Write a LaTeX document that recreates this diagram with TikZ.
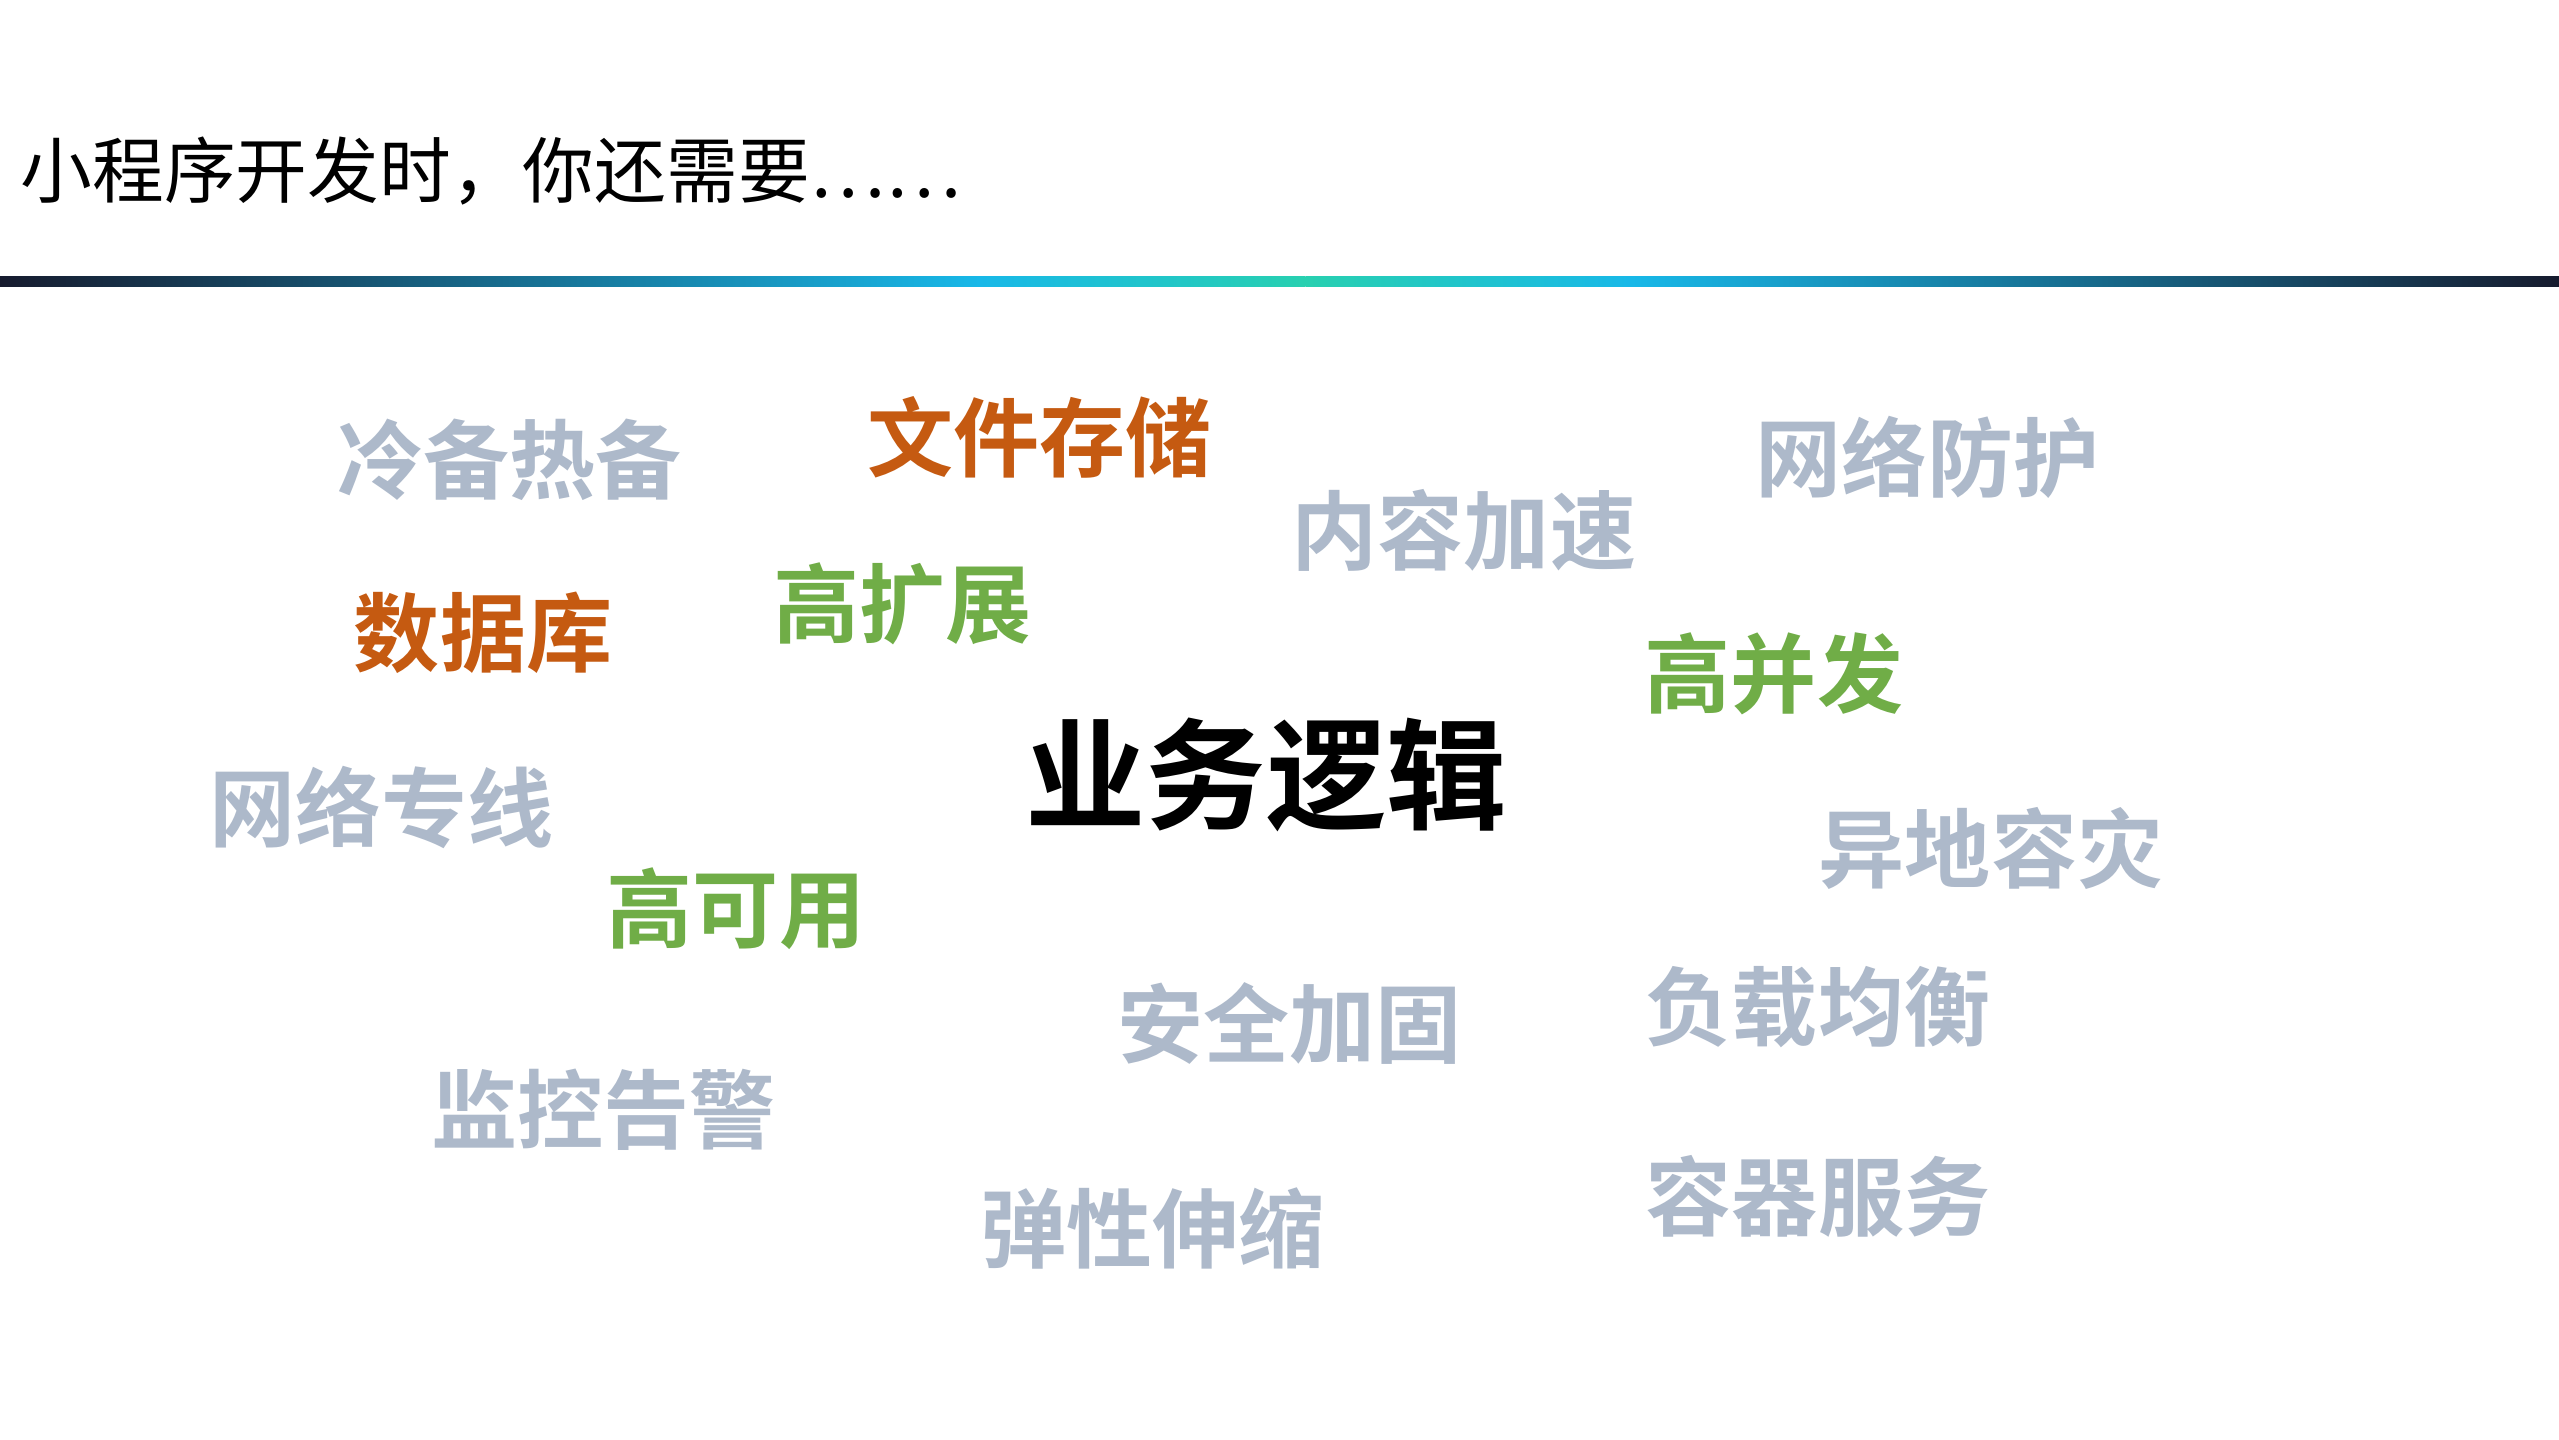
\documentclass[tikz,border=0pt]{standalone}
\usepackage{fontspec}
\setmainfont{Noto Sans CJK SC}
\newfontfamily\cjkb{Noto Sans CJK SC Bold}
\definecolor{gr}{HTML}{ADB9CA}
\definecolor{og}{HTML}{C55A11}
\definecolor{gn}{HTML}{70AD47}
\definecolor{nv}{HTML}{161B2E}
\definecolor{cy}{HTML}{18B8E8}
\definecolor{tl}{HTML}{28D0B0}
\tikzset{w/.style={font=\cjkb\fontsize{15}{15}\selectfont,inner sep=0pt},
 g/.style={w,text=gr}, o/.style={w,text=og}, n/.style={w,text=gn}}
\begin{document}
\begin{tikzpicture}[x=0.01cm,y=-0.01cm]
\useasboundingbox (0,0) rectangle (1568,882);
\fill[white] (0,0) rectangle (1568,882);
\node[anchor=west,inner sep=0pt,font=\fontsize{12.5}{13}\selectfont] (t) at (12,105) {小程序开发时，你还需要……};
\shade[left color=nv,right color=cy] (0,169.5) rectangle (600,175.5);
\shade[left color=cy,right color=tl] (600,169.5) rectangle (800,175.5);
\shade[left color=tl,right color=cy] (800,169.5) rectangle (1000,175.5);
\shade[left color=cy,right color=nv] (1000,169.5) rectangle (1568,175.5);
\node[g] (a1) at (312,282) {冷备热备};
\node[o] (a2) at (637,268) {文件存储};
\node[g] (a3) at (1181,280) {网络防护};
\node[g] (a4) at (897,325) {内容加速};
\node[o] (a5) at (296,388) {数据库};
\node[n] (a6) at (553,370) {高扩展};
\node[n] (a7) at (1087,413) {高并发};
\node[w,font=\cjkb\fontsize{21}{21}\selectfont] (a8) at (776,475) {业务逻辑};
\node[g] (a9) at (234,495) {网络专线};
\node[g] (a10) at (1220,520) {异地容灾};
\node[n] (a11) at (451,557) {高可用};
\node[g] (a12) at (1114,617) {负载均衡};
\node[g] (a13) at (790,627) {安全加固};
\node[g] (a14) at (370,680) {监控告警};
\node[g] (a15) at (1114,733) {容器服务};
\node[g] (a16) at (706,753) {弹性伸缩};
\end{tikzpicture}
\end{document}
